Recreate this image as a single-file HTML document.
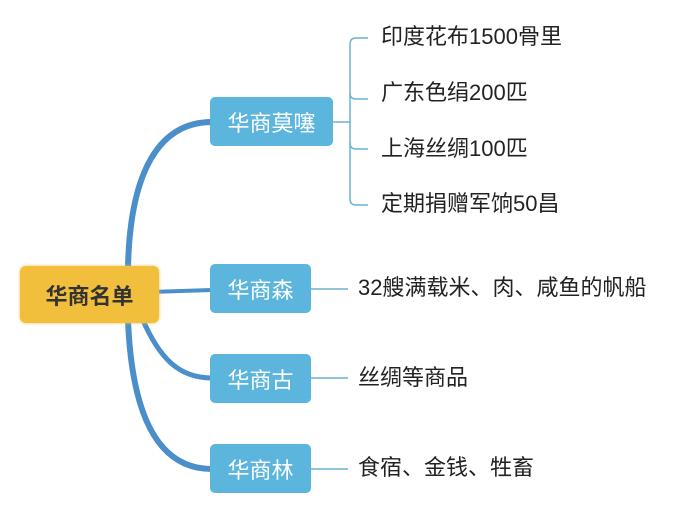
<!DOCTYPE html>
<html><head><meta charset="utf-8"><style>
body{margin:0;width:678px;height:514px;background:#fff;position:relative;overflow:hidden;font-family:"Liberation Sans","Noto Sans CJK SC",sans-serif}
.b{position:absolute;background:#5bb5dc;border-radius:5px;color:#fff;font-size:22px;display:flex;align-items:center;justify-content:center}
.t{position:absolute;font-size:22px;color:#222;line-height:24px;white-space:nowrap}
</style></head><body>
<svg width="678" height="514" style="position:absolute;left:0;top:0">
<g fill="none" stroke="#4a8fca" stroke-linecap="round">
<path d="M128 268 C 130 170, 160 122, 212 122" stroke-width="6"/>
<path d="M150 292 L 212 290" stroke-width="4"/>
<path d="M142 318 C 160 360, 180 378, 212 378" stroke-width="5"/>
<path d="M128 320 C 132 420, 160 469, 212 469" stroke-width="6"/>
</g>
<g fill="none" stroke="#6ab3d3" stroke-width="1.5">
<path d="M333 122 H350"/>
<path d="M368 38 H356 Q350 38 350 44 V199 Q350 205 356 205 H368"/>
<path d="M350 93 Q350 99 356 99 H368" />
<path d="M350 143 Q350 149 356 149 H368"/>
<path d="M311 289 H348"/>
<path d="M311 378 H348"/>
<path d="M311 469 H348"/>
</g>
</svg>
<div style="position:absolute;left:20px;top:266px;width:139px;height:57px;background:#f2bf3c;border-radius:6px;box-shadow:0 0 3px #e8c060;display:flex;align-items:center;justify-content:center;font-weight:bold;font-size:22px;color:#333">华商名单</div>
<div class="b" style="left:210px;top:97px;width:123px;height:49px">华商莫噻</div>
<div class="b" style="left:210px;top:264px;width:101px;height:49px">华商森</div>
<div class="b" style="left:210px;top:354px;width:101px;height:49px">华商古</div>
<div class="b" style="left:210px;top:444px;width:101px;height:49px">华商林</div>
<div class="t" style="left:381px;top:25px">印度花布1500骨里</div>
<div class="t" style="left:381px;top:81px">广东色绢200匹</div>
<div class="t" style="left:381px;top:137px">上海丝绸100匹</div>
<div class="t" style="left:381px;top:192px">定期捐赠军饷50昌</div>
<div class="t" style="left:358px;top:276px">32艘满载米、肉、咸鱼的帆船</div>
<div class="t" style="left:358px;top:366px">丝绸等商品</div>
<div class="t" style="left:358px;top:456px">食宿、金钱、牲畜</div>
</body></html>
